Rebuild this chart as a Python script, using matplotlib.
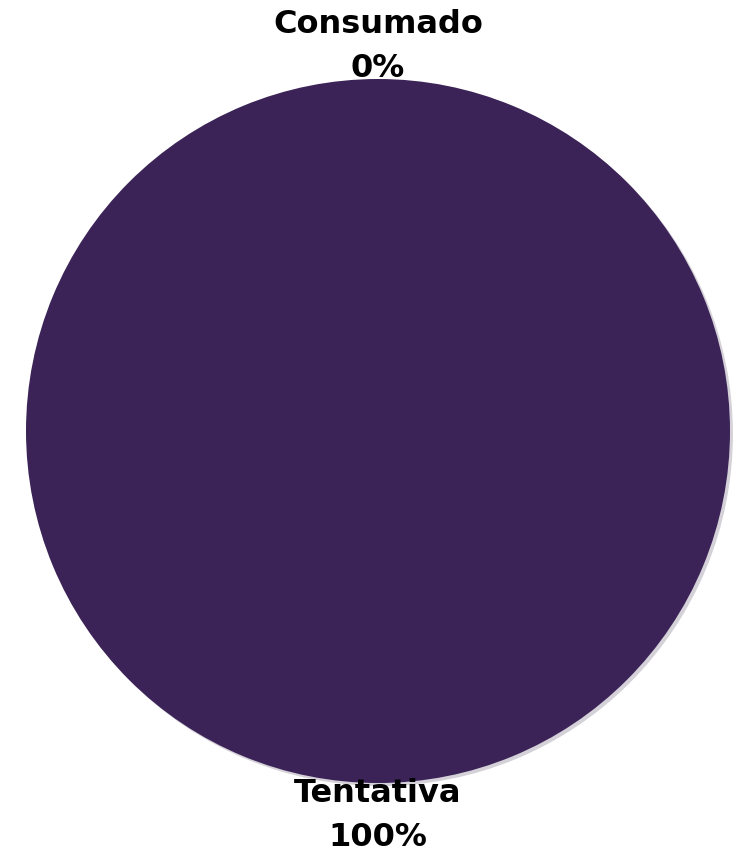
import matplotlib.pyplot as plt
import numpy as np

categories = ["Consumado", "Tentativa"]
values = [0, 100]
pct_labels = ["0%", "100%"]

fig = plt.figure(figsize=(7.33, 8.61), dpi=100)
# axes sized so the unit pie has a radius of ~352 px
ax = fig.add_axes([26 / 733, 78 / 861, 704 / 733, 704 / 861])

wedges, _ = ax.pie(values, startangle=90, counterclock=False,
                   colors=["#3b2357", "#3b2357"],
                   shadow=dict(ox=0.006, oy=-0.006, shade=0.3, alpha=0.2),
                   wedgeprops=dict(linewidth=0))
ax.set_xlim(-1, 1)
ax.set_ylim(-1, 1)
ax.set_aspect("equal")

for w, name, pct in zip(wedges, categories, pct_labels):
    ang = np.deg2rad((w.theta1 + w.theta2) / 2)
    x, y = 1.092 * np.cos(ang), 1.092 * np.sin(ang)
    ax.text(x, y, name + "\n" + pct, ha="center", va="center",
            fontsize=23, fontweight="bold", family="DejaVu Sans",
            linespacing=1.55, color="black", clip_on=False)

fig.savefig("out.png", dpi=100)
